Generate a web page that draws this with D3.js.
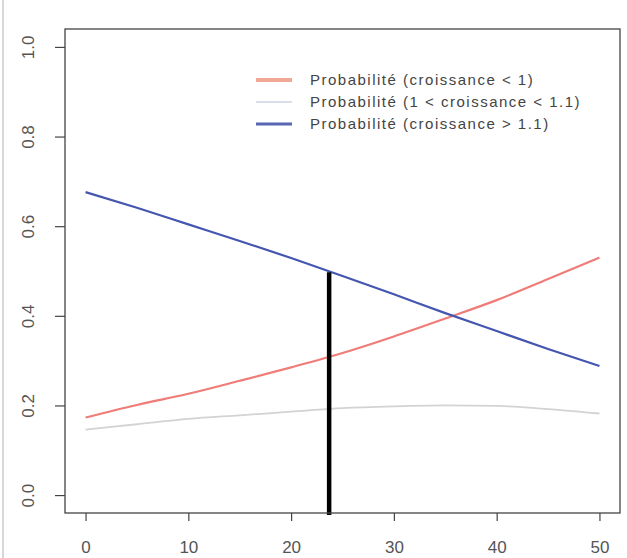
<!DOCTYPE html>
<html>
<head>
<meta charset="utf-8">
<script src="https://cdn.jsdelivr.net/npm/d3@7"></script>
<style>
  body { margin: 0; background: #fff; }
  text { font-family: "Liberation Sans", Arial, sans-serif; }
</style>
</head>
<body>
<div class="chart"></div>
<script>
// values
const xs = [0, 5, 10, 15, 20, 25, 30, 35, 40, 45, 50];
const pLow = [0.173, 0.201, 0.226, 0.255, 0.285, 0.317, 0.354, 0.394, 0.435, 0.482, 0.530];
const pMid = [0.146, 0.158, 0.170, 0.178, 0.186, 0.194, 0.198, 0.200, 0.199, 0.192, 0.182];
const pHigh = [0.676, 0.641, 0.604, 0.567, 0.529, 0.489, 0.448, 0.406, 0.366, 0.326, 0.288];
const markX = 23.7;
const markY = 0.497;
const legendLabels = ["Probabilité (croissance < 1)", "Probabilité (1 < croissance < 1.1)", "Probabilité (croissance > 1.1)"];
const xTicks = [0, 10, 20, 30, 40, 50];
const yTicks = [0, 0.2, 0.4, 0.6, 0.8, 1.0];

const width = 627;
const height = 558;
const mLeft = 65, mRight = 620, mTop = 29, mBottom = 513;

const svg = d3.select('.chart')
  .append('svg')
  .attr('width', width)
  .attr('height', height);

const x = d3.scaleLinear().domain([-2, 52]).range([mLeft, mRight]);
const y = d3.scaleLinear().domain([-0.04, 1.04]).range([mBottom, mTop]);

// faint edge on the far left
svg.append('line')
  .attr('x1', 3).attr('x2', 3).attr('y1', 0).attr('y2', height)
  .attr('stroke', '#d8d8d8').attr('stroke-width', 2);

const series = [
  {vals: pLow, color: '#f07c78', w: 2.2, legColor: '#f2a896', legW: 4},
  {vals: pMid, color: '#d3d3d3', w: 1.8, legColor: '#cfd2e0', legW: 1.6},
  {vals: pHigh, color: '#4556b0', w: 2.2, legColor: '#5867b4', legW: 3}
];

const line = d3.line()
  .x((d, i) => x(xs[i]))
  .y(d => y(d))
  .curve(d3.curveMonotoneX);

svg.selectAll('path.series')
  .data(series)
  .enter()
  .append('path')
  .attr('class', 'series')
  .attr('d', d => line(d.vals))
  .attr('fill', 'none')
  .attr('stroke', d => d.color)
  .attr('stroke-width', d => d.w);

// black vertical marker
svg.append('line')
  .attr('x1', x(markX)).attr('x2', x(markX))
  .attr('y1', y(-0.04) + 2).attr('y2', y(markY))
  .attr('stroke', '#000').attr('stroke-width', 4.5);

// plot box
svg.append('rect')
  .attr('x', mLeft).attr('y', mTop)
  .attr('width', mRight - mLeft).attr('height', mBottom - mTop)
  .attr('fill', 'none').attr('stroke', '#444').attr('stroke-width', 1.3);

// x axis
const xAxis = svg.append('g')
  .attr('transform', `translate(0,${mBottom})`)
  .call(d3.axisBottom(x).tickValues(xTicks).tickSize(8).tickPadding(20).tickFormat(d3.format('d')));
xAxis.select('.domain').remove();
xAxis.selectAll('line').attr('stroke', '#444').attr('stroke-width', 1.2);
xAxis.selectAll('text').attr('font-size', 17).attr('fill', '#555')
  .attr('font-family', '"Liberation Sans", Arial, sans-serif');

// y axis, labels rotated like R
const yAxis = svg.append('g')
  .attr('transform', `translate(${mLeft},0)`)
  .call(d3.axisLeft(y).tickValues(yTicks).tickSize(10).tickFormat(d3.format('.1f')));
yAxis.select('.domain').remove();
yAxis.selectAll('line').attr('stroke', '#444').attr('stroke-width', 1.2);
yAxis.selectAll('text')
  .attr('font-size', 17).attr('fill', '#555')
  .attr('font-family', '"Liberation Sans", Arial, sans-serif')
  .attr('text-anchor', 'middle')
  .attr('x', 0).attr('dy', 0)
  .attr('transform', 'translate(-37,0) rotate(-90)')
  .attr('dominant-baseline', 'central');

// legend
const leg = svg.selectAll('g.leg')
  .data(series)
  .enter()
  .append('g')
  .attr('class', 'leg')
  .attr('transform', (d, i) => `translate(256,${80 + i * 22})`);

leg.append('line')
  .attr('x1', 0).attr('x2', 36)
  .attr('stroke', d => d.legColor)
  .attr('stroke-width', d => d.legW);

leg.append('text')
  .attr('x', 54)
  .attr('dy', '0.35em')
  .attr('font-size', 15)
  .attr('letter-spacing', 1.5)
  .attr('fill', '#444')
  .text((d, i) => legendLabels[i]);
</script>
</body>
</html>
